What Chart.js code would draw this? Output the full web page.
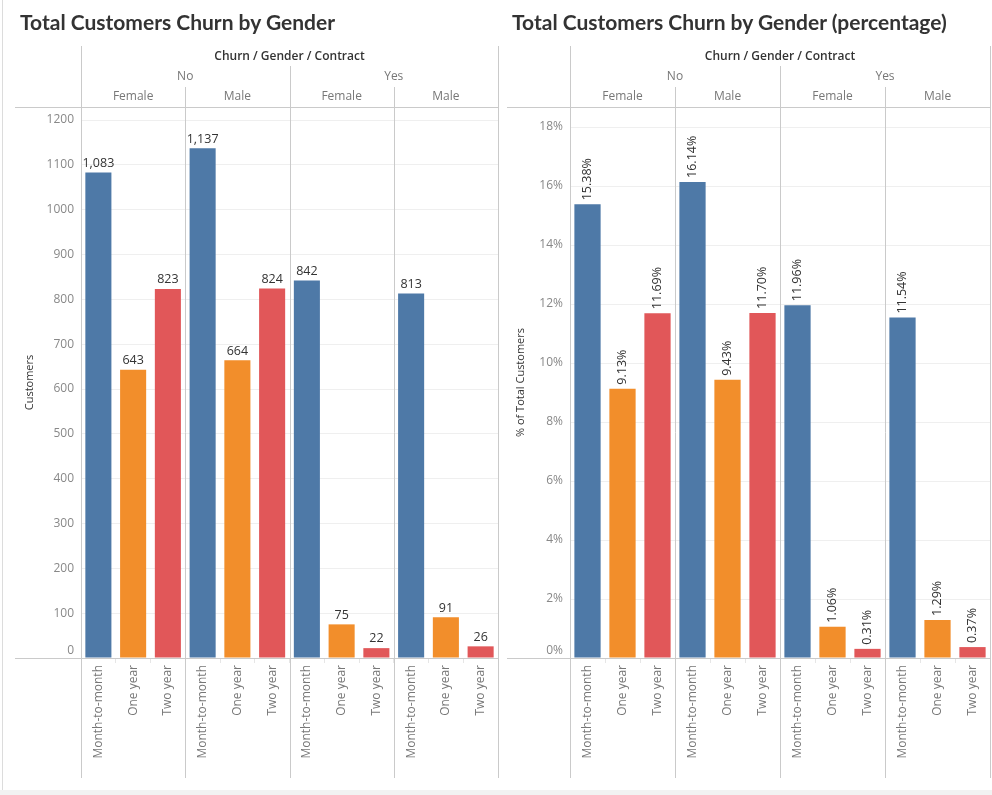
<!DOCTYPE html>
<html>
<head>
<meta charset="utf-8">
<title>Total Customers Churn by Gender</title>
<script src="https://cdn.jsdelivr.net/npm/chart.js@4.4.1/dist/chart.umd.min.js"></script>
<style>
  html, body { margin: 0; padding: 0; background: #fff; }
  body { width: 992px; height: 795px; position: relative; overflow: hidden; }
  .title { position: absolute; top: 9px; font-family: Lato, "Open Sans", sans-serif; font-size: 21px; font-weight: 700; color: #333; white-space: nowrap; }
  .box { position: absolute; top: 0; height: 795px; }
  #edge { position: absolute; left: 2px; top: 0; width: 1px; height: 790px; background: #dcdcdc; }
  #footer { position: absolute; left: 0; top: 790px; width: 992px; height: 5px; background: #f2f2f2; }
</style>
</head>
<body>
<div id="edge"></div>
<div class="box" style="left:0;width:500px;"><canvas id="countChart" width="500" height="795"></canvas></div>
<div class="box" style="left:500px;width:492px;"><canvas id="pctChart" width="492" height="795"></canvas></div>
<div class="title" style="left:20px;">Total Customers Churn by Gender</div>
<div class="title" style="left:512px;">Total Customers Churn by Gender (percentage)</div>
<div id="footer"></div>
<script>
// data
const contractTypes = ['Month-to-month', 'One year', 'Two year'];
const churnValues = ['No', 'Yes'];
const genderValues = ['Female', 'Male'];
// order: No/Female, No/Male, Yes/Female, Yes/Male, each Month-to-month, One year, Two year
const customerCounts = [1083, 643, 823, 1137, 664, 824, 842, 75, 22, 813, 91, 26];
const customerPct = [15.38, 9.13, 11.69, 16.14, 9.43, 11.70, 11.96, 1.06, 0.31, 11.54, 1.29, 0.37];
const contractColors = ['#4e79a7', '#f28e2b', '#e15759'];

const barLabels = [];
const barColors = [];
churnValues.forEach(c => {
  genderValues.forEach(g => {
    contractTypes.forEach((t, i) => {
      barLabels.push(t);
      barColors.push(contractColors[i]);
    });
  });
});

Chart.defaults.font.family = '"Open Sans", "Noto Sans", sans-serif';
Chart.defaults.font.size = 12;

// header rows (Churn / Gender) and the panel divider lines, Tableau style
const headerPlugin = {
  id: 'tableauHeader',
  afterDraw(chart, args, opts) {
    const ctx = chart.ctx;
    const a = chart.chartArea;
    const x = chart.scales.x;
    const edge = i => (x.getPixelForValue(i - 1) + x.getPixelForValue(i)) / 2;
    const px = v => Math.round(v) + 0.5;
    const line = (x1, y1, x2, y2) => {
      ctx.beginPath();
      ctx.moveTo(x1, y1);
      ctx.lineTo(x2, y2);
      ctx.stroke();
    };
    ctx.save();
    ctx.strokeStyle = '#cacaca';
    ctx.lineWidth = 1;
    line(px(a.left), 46, px(a.left), 778);
    line(px(a.right), 46, px(a.right), 778);
    line(px(edge(6)), 66, px(edge(6)), 778);
    line(px(edge(3)), 87, px(edge(3)), 778);
    line(px(edge(9)), 87, px(edge(9)), 778);
    line(opts.axisLeft, px(a.top), a.right, px(a.top));
    line(opts.axisLeft, px(a.bottom), a.right, px(a.bottom));

    ctx.textAlign = 'center';
    ctx.textBaseline = 'middle';
    ctx.fillStyle = '#333';
    ctx.font = '600 12px "Open Sans"';
    ctx.fillText('Churn / Gender / Contract', (a.left + a.right) / 2, 57);

    ctx.font = '12px "Open Sans"';
    ctx.fillStyle = '#777';
    churnValues.forEach((c, ci) => {
      const l = ci === 0 ? a.left : edge(6);
      const r = ci === 0 ? edge(6) : a.right;
      ctx.fillText(c, (l + r) / 2, 77);
    });
    for (let p = 0; p < 4; p++) {
      const l = p === 0 ? a.left : edge(p * 3);
      const r = p === 3 ? a.right : edge(p * 3 + 3);
      ctx.fillText(genderValues[p % 2], (l + r) / 2, 97);
    }
    ctx.restore();
  }
};

// value labels above the bars
const valueLabelPlugin = {
  id: 'valueLabels',
  afterDatasetsDraw(chart, args, opts) {
    const ctx = chart.ctx;
    const meta = chart.getDatasetMeta(0);
    const values = chart.data.datasets[0].data;
    ctx.save();
    ctx.fillStyle = '#333';
    ctx.font = '12.5px "Open Sans"';
    meta.data.forEach((bar, i) => {
      const v = values[i];
      if (opts.mode === 'pct') {
        const text = v.toFixed(2) + '%';
        ctx.save();
        ctx.translate(bar.x, bar.y - 4);
        ctx.rotate(-Math.PI / 2);
        ctx.textAlign = 'left';
        ctx.textBaseline = 'middle';
        ctx.fillText(text, 0, 0);
        ctx.restore();
      } else {
        ctx.textAlign = 'center';
        ctx.textBaseline = 'bottom';
        ctx.fillText(v.toLocaleString('en-US'), bar.x, bar.y - 3);
      }
    });
    ctx.restore();
  }
};

function makeChart(canvasId, values, cfg) {
  const ctx = document.getElementById(canvasId).getContext('2d');
  return new Chart(ctx, {
    type: 'bar',
    data: {
      labels: barLabels,
      datasets: [{
        data: values,
        backgroundColor: barColors,
        borderWidth: 0,
        barPercentage: 0.75,
        categoryPercentage: 1
      }]
    },
    plugins: [headerPlugin, valueLabelPlugin],
    options: {
      responsive: false,
      animation: false,
      layout: { padding: { left: cfg.padLeft, right: 2, top: 107, bottom: 17 } },
      plugins: {
        legend: { display: false },
        tooltip: { enabled: false },
        tableauHeader: { axisLeft: cfg.padLeft },
        valueLabels: { mode: cfg.mode }
      },
      scales: {
        x: {
          offset: true,
          border: { display: false },
          grid: { offset: true, drawOnChartArea: false, drawTicks: true, tickLength: 5, color: '#e6e6e6' },
          ticks: { minRotation: 90, maxRotation: 90, autoSkip: false, color: '#777', padding: 2 },
          afterFit: s => { s.height = 120; }
        },
        y: {
          min: 0,
          max: cfg.max,
          border: { display: false },
          grid: { color: '#efefef', drawTicks: false },
          ticks: {
            stepSize: cfg.step,
            includeBounds: false,
            color: '#888',
            padding: 7,
            // the zero label sits a bit above the baseline, as in the original
            callback: v => {
              const text = cfg.mode === 'pct' ? v + '%' : String(v);
              return v === 0 ? [text, ''] : text;
            }
          },
          title: {
            display: true,
            text: cfg.title,
            color: '#333',
            font: { size: 11 },
            padding: { top: cfg.titlePad, bottom: 0 }
          },
          afterFit: s => { s.width = cfg.axisWidth; }
        }
      }
    }
  });
}

makeChart('countChart', customerCounts, {
  mode: 'count', max: 1229, step: 100, title: 'Customers',
  padLeft: 15, axisWidth: 66, titlePad: 8
});
makeChart('pctChart', customerPct, {
  mode: 'pct', max: 18.68, step: 2, title: '% of Total Customers',
  padLeft: 7, axisWidth: 63, titlePad: 7
});
</script>
</body>
</html>
